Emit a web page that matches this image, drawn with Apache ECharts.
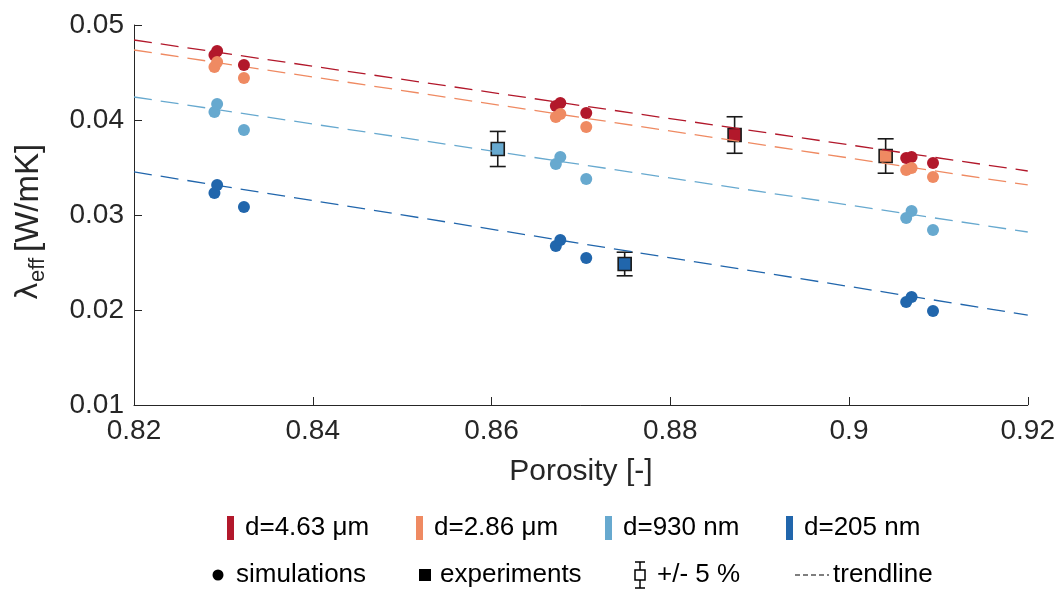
<!DOCTYPE html>
<html>
<head>
<meta charset="utf-8">
<script src="https://cdn.jsdelivr.net/npm/echarts@6/dist/echarts.min.js"></script>
<style>html,body{margin:0;padding:0;background:#fff;}#c{width:1058px;height:589px;}</style>
</head>
<body>
<div id="c"></div>
<script>
// ---- data ----
const groupNames = ['d=4.63 μm', 'd=2.86 μm', 'd=930 nm', 'd=205 nm'];
const groupColors = ['#b2182b', '#ef8a62', '#67a9cf', '#2166ac'];

const simPorosity = [0.8290, 0.8293, 0.8323, 0.8672, 0.8677, 0.8706, 0.9064, 0.9070, 0.9094];
const simRed      = [0.04684, 0.04726, 0.04579, 0.04147, 0.04179, 0.04074, 0.03600, 0.03610, 0.03547];
const simOrange   = [0.04558, 0.04611, 0.04442, 0.04032, 0.04063, 0.03926, 0.03474, 0.03495, 0.03400];
const simLight    = [0.04084, 0.04168, 0.03895, 0.03537, 0.03611, 0.03379, 0.02968, 0.03042, 0.02842];
const simBlue     = [0.03232, 0.03316, 0.03084, 0.02674, 0.02737, 0.02547, 0.02084, 0.02137, 0.01989];

const expPorosity = [0.8872, 0.9041, 0.8607, 0.8749];
const expValues   = [0.03842, 0.03621, 0.03695, 0.02484];
const expError    = 0.05; // +/- 5 %

const trendX      = [0.82, 0.92];
const trendRed    = [0.04842, 0.03463];
const trendOrange = [0.04737, 0.03316];
const trendLight  = [0.04242, 0.02821];
const trendBlue   = [0.03453, 0.01947];

const xTicks = ['0.82', '0.84', '0.86', '0.88', '0.9', '0.92'];
const yTicks = ['0.01', '0.02', '0.03', '0.04', '0.05'];

// ---- build ----
const simSets = [simRed, simOrange, simLight, simBlue];
const trendSets = [trendRed, trendOrange, trendLight, trendBlue];
const FONT = '"Liberation Sans", Arial, Helvetica, sans-serif';
const AX = '#262626';

const series = [];
trendSets.forEach((t, i) => {
  series.push({
    type: 'line', name: groupNames[i] + ' trend', z: 3, symbol: 'none', silent: true,
    data: trendX.map((x, k) => [x, t[k]]),
    lineStyle: { color: groupColors[i], width: 1.3, type: [18, 9] }
  });
});
simSets.forEach((s, i) => {
  series.push({
    type: 'scatter', name: groupNames[i], z: 4, symbol: 'circle', symbolSize: 12,
    data: simPorosity.map((x, k) => [x, s[k]]),
    itemStyle: { color: groupColors[i], opacity: 1 }
  });
});
series.push({
  type: 'custom', name: 'errorbars', z: 1,
  data: expPorosity.map((x, k) => [x, expValues[k], expValues[k] * (1 - expError), expValues[k] * (1 + expError)]),
  renderItem: function (params, api) {
    const x = api.value(0);
    const lo = api.coord([x, api.value(2)]);
    const hi = api.coord([x, api.value(3)]);
    const w = 8;
    const st = { stroke: '#1a1a1a', lineWidth: 1.6 };
    return {
      type: 'group', children: [
        { type: 'line', shape: { x1: lo[0], y1: lo[1], x2: hi[0], y2: hi[1] }, style: st },
        { type: 'line', shape: { x1: lo[0] - w, y1: lo[1], x2: lo[0] + w, y2: lo[1] }, style: st },
        { type: 'line', shape: { x1: hi[0] - w, y1: hi[1], x2: hi[0] + w, y2: hi[1] }, style: st }
      ]
    };
  }
});
series.push({
  type: 'scatter', name: 'experiments', z: 2, symbol: 'rect', symbolSize: 13,
  data: expPorosity.map((x, k) => ({ value: [x, expValues[k]], itemStyle: { color: groupColors[k] } })),
  itemStyle: { borderColor: '#1a1a1a', borderWidth: 1.6, opacity: 1 }
});

// legend graphics
const lg = [];
const row1 = 528, row2 = 575, LF = 26;
const row1X = [227, 416, 605, 786];
row1X.forEach((x, i) => {
  lg.push({ type: 'rect', shape: { x: x, y: row1 - 12, width: 7, height: 24 }, style: { fill: groupColors[i] } });
  lg.push({ type: 'text', x: x + 18, y: row1, style: { text: groupNames[i], font: LF + 'px ' + FONT, fill: '#000', verticalAlign: 'middle', align: 'left' } });
});
lg.push({ type: 'circle', shape: { cx: 218, cy: row2, r: 5.5 }, style: { fill: '#000' } });
lg.push({ type: 'text', x: 236, y: row2, style: { text: 'simulations', font: LF + 'px ' + FONT, fill: '#000', verticalAlign: 'middle' } });
lg.push({ type: 'rect', shape: { x: 419, y: row2 - 6, width: 12, height: 12 }, style: { fill: '#000' } });
lg.push({ type: 'text', x: 440, y: row2, style: { text: 'experiments', font: LF + 'px ' + FONT, fill: '#000', verticalAlign: 'middle' } });
// errorbar icon
const ex = 640;
const est = { stroke: '#000', lineWidth: 1.5, fill: 'none' };
lg.push({ type: 'line', shape: { x1: ex, y1: row2 - 13, x2: ex, y2: row2 + 13 }, style: est });
lg.push({ type: 'line', shape: { x1: ex - 5, y1: row2 - 13, x2: ex + 5, y2: row2 - 13 }, style: est });
lg.push({ type: 'line', shape: { x1: ex - 5, y1: row2 + 13, x2: ex + 5, y2: row2 + 13 }, style: est });
lg.push({ type: 'rect', shape: { x: ex - 5, y: row2 - 5, width: 10, height: 10 }, style: { fill: '#fff', stroke: '#000', lineWidth: 1.5 } });
lg.push({ type: 'text', x: 657, y: row2, style: { text: '+/- 5 %', font: LF + 'px ' + FONT, fill: '#000', verticalAlign: 'middle' } });
lg.push({ type: 'line', shape: { x1: 795, y1: row2, x2: 829, y2: row2 }, style: { stroke: '#000', lineWidth: 1.2, lineDash: [5, 3] } });
lg.push({ type: 'text', x: 833, y: row2, style: { text: 'trendline', font: LF + 'px ' + FONT, fill: '#000', verticalAlign: 'middle' } });

// y axis title (rotated)
lg.push({
  type: 'group', x: 29, y: 300, rotation: Math.PI / 2,
  children: [
    { type: 'text', x: 0, y: 0, style: { text: 'λ', font: '30px "DejaVu Sans", ' + FONT, fill: AX, verticalAlign: 'middle', align: 'left' } },
    { type: 'text', x: 18, y: 9, style: { text: 'eff', font: '22px ' + FONT, fill: AX, verticalAlign: 'middle', align: 'left' } },
    { type: 'text', x: 48, y: 0, style: { text: '[W/mK]', font: '33px ' + FONT, fill: AX, verticalAlign: 'middle', align: 'left' } }
  ]
});

const fmt = (ticks) => (v) => {
  const s = String(parseFloat(v.toFixed(3)));
  return ticks.indexOf(s) >= 0 ? s : '';
};

const option = {
  animation: false,
  backgroundColor: '#fff',
  grid: { left: 134, right: 30, top: 25, bottom: 184, containLabel: false },
  xAxis: {
    type: 'value', min: 0.82, max: 0.92, interval: 0.02,
    name: 'Porosity [-]', nameLocation: 'middle', nameGap: 52,
    nameTextStyle: { fontFamily: FONT, fontSize: 30, color: AX },
    axisLine: { show: true, onZero: false, lineStyle: { color: AX, width: 1 } },
    axisTick: { show: true, inside: true, length: 8, lineStyle: { color: AX } },
    axisLabel: { fontFamily: FONT, fontSize: 28, color: AX, margin: 12, formatter: fmt(xTicks) },
    splitLine: { show: false }
  },
  yAxis: {
    type: 'value', min: 0.01, max: 0.05, interval: 0.01,
    axisLine: { show: true, onZero: false, lineStyle: { color: AX, width: 1 } },
    axisTick: { show: true, inside: true, length: 8, lineStyle: { color: AX } },
    axisLabel: { fontFamily: FONT, fontSize: 28, color: AX, margin: 10, formatter: fmt(yTicks) },
    splitLine: { show: false }
  },
  series: series,
  graphic: lg
};

const chart = echarts.init(document.getElementById('c'), null, { renderer: 'canvas' });
chart.setOption(option);
</script>
</body>
</html>
